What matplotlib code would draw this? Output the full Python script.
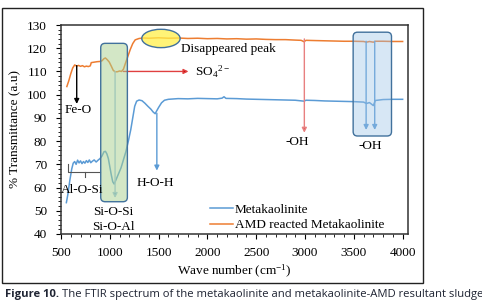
import matplotlib
matplotlib.use('Agg')
import matplotlib.pyplot as plt
from matplotlib.patches import FancyBboxPatch, Ellipse, Rectangle

# FTIR spectra (wave number, % transmittance)
wave_meta = [555, 570, 590, 610, 625, 640, 655, 670, 685, 700, 715, 730, 745, 760,
             775, 790, 805, 820, 840, 860, 880, 900, 920, 940, 955, 970, 985, 1000,
             1015, 1030, 1045, 1060, 1075, 1095, 1115, 1140, 1165, 1190, 1215, 1235,
             1255, 1275, 1300, 1330, 1360, 1390, 1420, 1445, 1465, 1480, 1500, 1530,
             1560, 1600, 1700, 1800, 1900, 2000, 2100, 2150, 2170, 2190, 2300, 2400,
             2500, 2600, 2700, 2800, 2900, 2990, 3010, 3100, 3200, 3300, 3400, 3500,
             3600, 3630, 3660, 3700, 3720, 3800, 3900, 4000]
trans_meta = [53.5, 57, 63, 68, 70.5, 71.2, 70.0, 71.8, 70.6, 71.5, 70.3, 71.2, 70.5, 71.6,
              70.8, 71.9, 70.7, 71.3, 71.9, 71.0, 71.8, 72.5, 73.6, 75.4, 75.6, 74.5, 72.5, 69.0,
              65.5, 62.5, 61.5, 63.0, 64.5, 66.5, 68.5, 72.0, 75.5, 80.0, 85.0, 90.0,
              95.0, 97.2, 97.7, 97.4, 96.3, 95.0, 93.8, 92.5, 91.8, 93.0, 94.5, 96.5,
              97.6, 98.0, 98.3, 98.2, 98.4, 98.3, 98.2, 98.5, 99.1, 98.4, 98.3, 98.1,
              98.0, 97.9, 97.8, 97.7, 97.6, 97.2, 97.6, 97.5, 97.3, 97.2, 97.1, 97.0,
              96.8, 96.2, 96.6, 95.3, 97.5, 97.9, 98.0, 98.0]

wave_amd = [560, 580, 600, 620, 640, 660, 680, 700, 720, 740, 760, 780, 800, 810, 840,
            870, 900, 920, 940, 955, 975, 995, 1015, 1035, 1055, 1080, 1100, 1120, 1140,
            1160, 1185, 1210, 1235, 1260, 1300, 1350, 1400, 1500, 1600, 1700, 1800, 1900,
            2000, 2100, 2200, 2300, 2400, 2500, 2600, 2700, 2800, 2900, 2960, 2990, 3010,
            3100, 3200, 3300, 3400, 3500, 3600, 3630, 3660, 3700, 3720, 3800, 3900, 4000]
trans_amd = [103.5, 106, 109, 111.5, 112.8, 112.3, 112.6, 112.2, 112.5, 112.0, 112.3, 112.1, 112.4, 113.8, 114.0,
             114.2, 114.3, 114.6, 115.5, 115.8, 115.0, 114.0, 112.3, 110.5, 109.8, 109.9, 110.2, 110.0, 111.0,
             113.5, 116.5, 119.5, 122.0, 123.6, 124.2, 124.4, 124.3, 124.5, 124.3, 124.4, 124.2, 124.3,
             124.1, 124.2, 124.0, 124.1, 123.9, 124.0, 123.8, 123.7, 123.7, 123.5, 123.4, 122.8, 123.4,
             123.3, 123.2, 123.1, 123.0, 123.0, 122.9, 122.6, 122.9, 122.6, 123.0, 123.0, 122.9, 122.9]

labels = ['Metakaolinite', 'AMD reacted Metakaolinite']
x_ticks = [500, 1000, 1500, 2000, 2500, 3000, 3500, 4000]
y_ticks = [40, 50, 60, 70, 80, 90, 100, 110, 120, 130]

serif = 'Liberation Serif'
plt.rcParams['font.family'] = serif
plt.rcParams['mathtext.fontset'] = 'custom'
plt.rcParams['mathtext.rm'] = serif
plt.rcParams['mathtext.it'] = serif + ':italic'
fs = 9.5

fig = plt.figure(figsize=(4.82, 3.06), dpi=100)
ax = fig.add_axes([61 / 482, 1 - 234 / 306, 347 / 482, 209 / 306])

blue = '#5B9BD5'
orange = '#ED7D31'
edge = '#41719C'

ax.plot(wave_meta, trans_meta, color=blue, lw=1.1, label=labels[0], zorder=3)
ax.plot(wave_amd, trans_amd, color=orange, lw=1.1, label=labels[1], zorder=3)

ax.set_xlim(500, 4055)
ax.set_ylim(40, 130)
ax.set_xticks(x_ticks)
ax.set_yticks(y_ticks)
ax.set_xticks(range(500, 4001, 100), minor=True)
ax.set_yticks(range(40, 131, 2), minor=True)
ax.tick_params(which='major', direction='out', length=3.5, width=0.8, labelsize=fs)
ax.tick_params(which='minor', direction='out', length=2, width=0.6)
ax.tick_params(axis='x', which='major', pad=5.5)
ax.tick_params(axis='y', which='major', pad=6.5)
for sp in ax.spines.values():
    sp.set_color('#333333')
    sp.set_linewidth(1.1)

ax.set_xlabel('Wave number (cm$^{-1}$)', fontsize=fs, labelpad=3)
ax.set_ylabel('% Transmittance (a.u)', fontsize=fs, labelpad=4)

# highlighted bands
aspect = (90 / 209) / (3555 / 347)
for (x0, y0, w, h, fc, a) in [(907, 53.9, 273, 68.2, '#A9D18E', 0.5),
                              (3493, 82.2, 393, 44.7, '#9DC3E6', 0.4)]:
    ax.add_patch(FancyBboxPatch((x0, y0), w, h, boxstyle='round,pad=0,rounding_size=45',
                                mutation_aspect=aspect, fc=fc, ec='none', alpha=a, zorder=4))
    ax.add_patch(FancyBboxPatch((x0, y0), w, h, boxstyle='round,pad=0,rounding_size=45',
                                mutation_aspect=aspect, fc='none', ec=edge, lw=1, zorder=4))
ax.add_patch(Ellipse((1524, 124.2), 393, 7.9, fc='#FFF04A', ec='none', alpha=0.75, zorder=5))
ax.add_patch(Ellipse((1524, 124.2), 393, 7.9, fc='none', ec=edge, lw=1, zorder=5))


def arrow(x0, y0, x1, y1, color, head=None, z=3):
    ax.annotate('', xy=(x1, y1), xytext=(x0, y0),
                arrowprops=dict(arrowstyle='-|>', color=color, lw=1,
                                mutation_scale=7, shrinkA=0, shrinkB=0,
                                fc=head or color),
                zorder=z)


arrow(661, 112.5, 661, 96, 'black')
arrow(1054, 110, 1054, 55.5, '#9DC3E6', head=blue)
arrow(1482, 92, 1482, 67.3, blue)
arrow(1139, 110, 1806, 110, '#E04040', head='#C00000')
arrow(2993, 124, 2993, 83.6, '#E88080', head='#E06060')
arrow(3626, 123, 3626, 84.8, blue)
arrow(3714, 123, 3714, 84.8, blue)

# Al-O-Si bracket
ax.plot([575, 575, 900], [70.2, 66.7, 66.7], color='#555555', lw=0.8, zorder=3)
ax.plot([746, 746], [66.7, 64.5], color='#555555', lw=0.8, zorder=3)

txt = dict(fontsize=fs, ha='center', va='center', zorder=6)
ax.text(678, 93.4, 'Fe-O', **txt)
ax.text(720, 59, 'Al-O-Si', **txt)
ax.text(1037, 49.6, 'Si-O-Si', **txt)
ax.text(1037, 42.9, 'Si-O-Al', **txt)
ax.text(1463, 61.8, 'H-O-H', **txt)
ax.text(1731, 119.7, 'Disappeared peak', fontsize=fs, ha='left', va='center', zorder=6)
ax.text(1868, 110, 'SO$_4$$^{2-}$', fontsize=fs, ha='left', va='center', zorder=6)
ax.text(2924, 79.8, '-OH', **txt)
ax.text(3670, 77.9, '-OH', **txt)

ax.legend(loc='center left', bbox_to_anchor=(0.43, 0.08), frameon=False, fontsize=fs,
          handlelength=1.7, handletextpad=0.15, labelspacing=0.25, borderpad=0, borderaxespad=0)

# outer frame around the chart
fig.patches.append(Rectangle((2 / 482, 1 - 283 / 306), 421 / 482, 275 / 306,
                             transform=fig.transFigure, fill=False, ec='#222222', lw=1))

# caption: bold lead followed by regular text
cap_y = 1 - 294 / 306
r = fig.canvas.get_renderer()
csize = 8.5
t1 = fig.text(5 / 482, cap_y, 'Figure 10.', fontsize=csize, fontweight='bold',
              family='Open Sans', va='center', color='#1f2433')
w1 = t1.get_window_extent(r).width
t2 = fig.text((5 + w1 + 3) / 482, cap_y,
              'The FTIR spectrum of the metakaolinite and metakaolinite-AMD resultant sludge',
              fontsize=csize, family='Open Sans', va='center', color='#1f2433')
total = w1 + 3 + t2.get_window_extent(r).width
scale = 474 / total
t1.set_fontsize(csize * scale)
t2.set_fontsize(csize * scale)
w1 = t1.get_window_extent(r).width
t2.set_x((5 + w1 + 3) / 482)

fig.savefig('out.png', dpi=100)
